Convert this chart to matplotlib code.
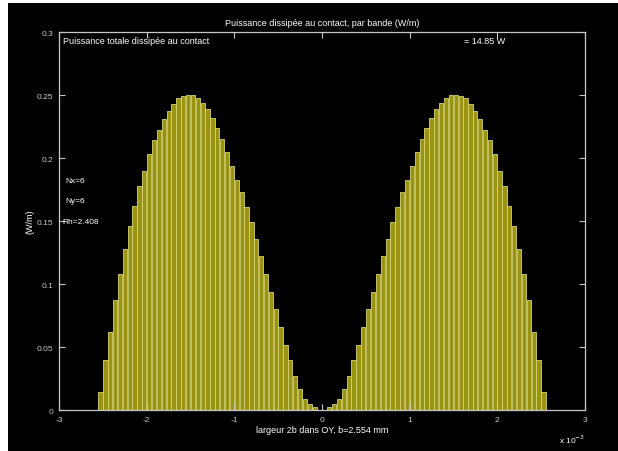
import numpy as np
import matplotlib
matplotlib.use('Agg')
import matplotlib.pyplot as plt

# puissance par bande (W/m), moitie droite du contact, du centre vers le bord
p_droite = [0.000, 0.002, 0.005, 0.009, 0.017, 0.027, 0.040, 0.052, 0.066, 0.080,
            0.094, 0.108, 0.122, 0.136, 0.149, 0.161, 0.173, 0.183, 0.194, 0.205,
            0.215, 0.224, 0.232, 0.239, 0.244, 0.248, 0.250, 0.250, 0.249, 0.248,
            0.243, 0.237, 0.231, 0.222, 0.214, 0.203, 0.190, 0.178, 0.162, 0.146,
            0.128, 0.108, 0.087, 0.062, 0.040, 0.014]
# moitie gauche, du bord vers le centre
p_gauche = [0.014, 0.040, 0.062, 0.087, 0.108, 0.128, 0.146, 0.162, 0.178, 0.190,
            0.203, 0.214, 0.222, 0.231, 0.237, 0.243, 0.248, 0.249, 0.250, 0.250,
            0.248, 0.244, 0.239, 0.232, 0.224, 0.215, 0.205, 0.194, 0.183, 0.173,
            0.161, 0.149, 0.136, 0.122, 0.108, 0.094, 0.080, 0.066, 0.052, 0.040,
            0.027, 0.017, 0.009, 0.005, 0.002, 0.000]
b = 2.554  # demi-largeur en mm (x 1e-3 m)
x_ticks = [-3, -2, -1, 0, 1, 2, 3]
y_ticks = [0, 0.05, 0.1, 0.15, 0.2, 0.25, 0.3]
y_ticklabels = ['0', '0.05', '0.1', '0.15', '0.2', '0.25', '0.3']

puissance = p_gauche + p_droite
n = len(puissance)
pas = 2 * b / n
xc = np.linspace(-b + pas / 2, b - pas / 2, n)

plt.rcParams['font.family'] = ['Liberation Sans', 'DejaVu Sans']
fig = plt.figure(figsize=(6.18, 4.52), dpi=100, facecolor='white')
fig.patches.append(plt.Rectangle((8 / 618, 0), 1, 1 - 4 / 452, transform=fig.transFigure,
                                 facecolor='black', edgecolor='none', zorder=-10))
ax = fig.add_axes([0.0955, 0.0907, 0.851, 0.836])
ax.set_facecolor('black')

ax.bar(xc, puissance, width=pas * 0.88, color='#9a9412', edgecolor='#d8d574', linewidth=0.6)

gris = '#c8c8c8'
ax.set_xlim(-3, 3)
ax.set_ylim(0, 0.3)
ax.set_xticks(x_ticks)
ax.set_xticklabels([str(t) for t in x_ticks])
ax.set_yticks(y_ticks)
ax.set_yticklabels(y_ticklabels)
ax.tick_params(direction='in', colors=gris, labelsize=6, length=4, top=True, right=True, pad=4)
for s in ax.spines.values():
    s.set_color(gris)
    s.set_linewidth(0.9)

ax.set_title('Puissance dissipée au contact, par bande (W/m)', color='white', fontsize=6.5, pad=5)
ax.set_xlabel('largeur 2b dans OY, b=2.554 mm', color='white', fontsize=6.5, labelpad=2)
ax.set_ylabel('(W/m)', color='white', fontsize=6.5, labelpad=2)
ax.text(-2.96, 0.297, 'Puissance totale dissipée au contact', color='white', fontsize=6.5, va='top')
ax.text(1.62, 0.297, '= 14.85 W', color='white', fontsize=6.5, va='top')
ax.text(-2.93, 0.181, 'Nx=6', color='white', fontsize=6)
ax.text(-2.93, 0.165, 'Ny=6', color='white', fontsize=6)
ax.text(-2.96, 0.150, 'Rh=2.408', color='white', fontsize=6, va='center')
ax.text(3.0, -0.023, 'x 10$^{-3}$', color='white', fontsize=6, ha='right', va='center')

fig.savefig('out.png', dpi=100, facecolor=fig.get_facecolor())
